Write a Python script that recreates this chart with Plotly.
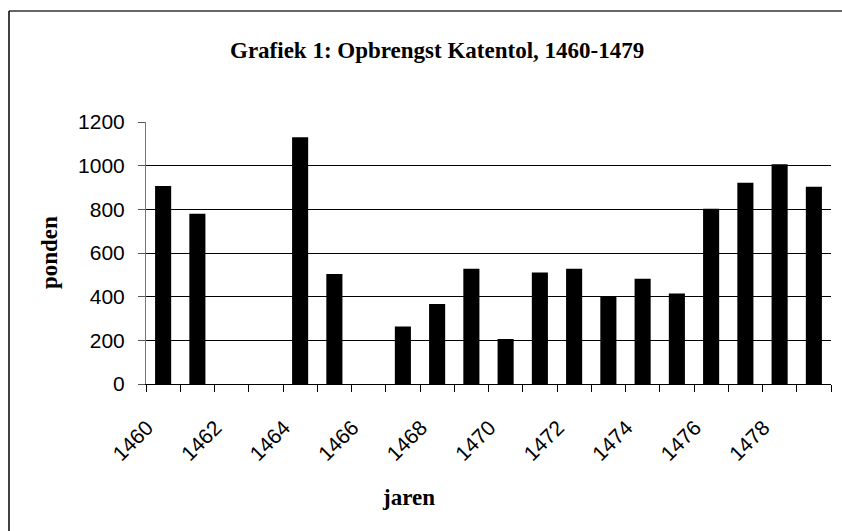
import plotly.graph_objects as go

years = list(range(1460, 1480))
ponden = [907, 780, 0, 0, 1130, 504, 0, 263, 366, 528,
          206, 511, 528, 403, 482, 414, 803, 922, 1006, 904]
tick_years = list(range(1460, 1480, 2))
tick_labels = [str(y) for y in tick_years]
title_text = "Grafiek 1: Opbrengst Katentol, 1460-1479"
y_title = "ponden"
x_title = "jaren"

W, H = 842, 531
L, R, T, B = 146, 11, 122, 147
pw, ph = W - L - R, H - T - B

def px(x):
    return (x - L) / pw

def py(y):
    return (H - B - y) / ph

fig = go.Figure(go.Bar(x=years, y=ponden, marker=dict(color="black", line=dict(width=0)),
                       width=0.47))

serif = "Liberation Serif, Times New Roman, serif"
sans = "Liberation Sans, Arial, sans-serif"

fig.update_layout(
    width=W, height=H,
    margin=dict(l=L, r=R, t=T, b=B, autoexpand=False),
    paper_bgcolor="white", plot_bgcolor="white",
    showlegend=False,
    font=dict(family=sans, size=21, color="black"),
    xaxis=dict(
        range=[1459.5, 1479.5],
        tickmode="array", tickvals=tick_years, ticktext=tick_labels,
        ticks="", tickangle=-45, ticklabelshift=-16, ticklabelstandoff=22,
        tickfont=dict(family=sans, size=21, color="black"),
        showgrid=False, zeroline=False,
        showline=True, linecolor="black", linewidth=1,
        minor=dict(ticks="outside", tick0=1459.5, dtick=1, ticklen=7,
                   tickcolor="black", tickwidth=1, showgrid=False),
    ),
    yaxis=dict(
        range=[0, 1200], tickmode="linear", tick0=0, dtick=200,
        ticks="outside", ticklen=7, tickcolor="#555555", ticklabelstandoff=9,
        tickfont=dict(family=sans, size=21, color="black"),
        showgrid=True, gridcolor="black", gridwidth=1,
        zeroline=False, showline=True, linecolor="#777777", linewidth=1,
    ),
    annotations=[
        dict(text="<b>" + title_text + "</b>", x=px(437), y=py(50), xref="paper", yref="paper",
             xanchor="center", yanchor="middle",
             showarrow=False, font=dict(family=serif, size=23, color="black")),
        dict(text="<b>" + y_title + "</b>", x=px(49), y=py(253), xref="paper", yref="paper",
             xanchor="center", yanchor="middle",
             showarrow=False, textangle=-90, font=dict(family=serif, size=23, color="black")),
        dict(text="<b>" + x_title + "</b>", x=px(408), y=py(497), xref="paper", yref="paper",
             xanchor="center", yanchor="middle",
             showarrow=False, font=dict(family=serif, size=23, color="black")),
    ],
    shapes=[
        dict(type="line", xref="paper", yref="paper", x0=px(9), y0=py(11), x1=px(845), y1=py(11),
             line=dict(color="#333333", width=1.5)),
        dict(type="line", xref="paper", yref="paper", x0=px(9), y0=py(11), x1=px(9), y1=py(535),
             line=dict(color="black", width=1.5)),
    ],
)

fig.write_html("out.html", config={"displayModeBar": False},
               post_script="document.body.style.margin='0';document.body.style.overflow='hidden';")
